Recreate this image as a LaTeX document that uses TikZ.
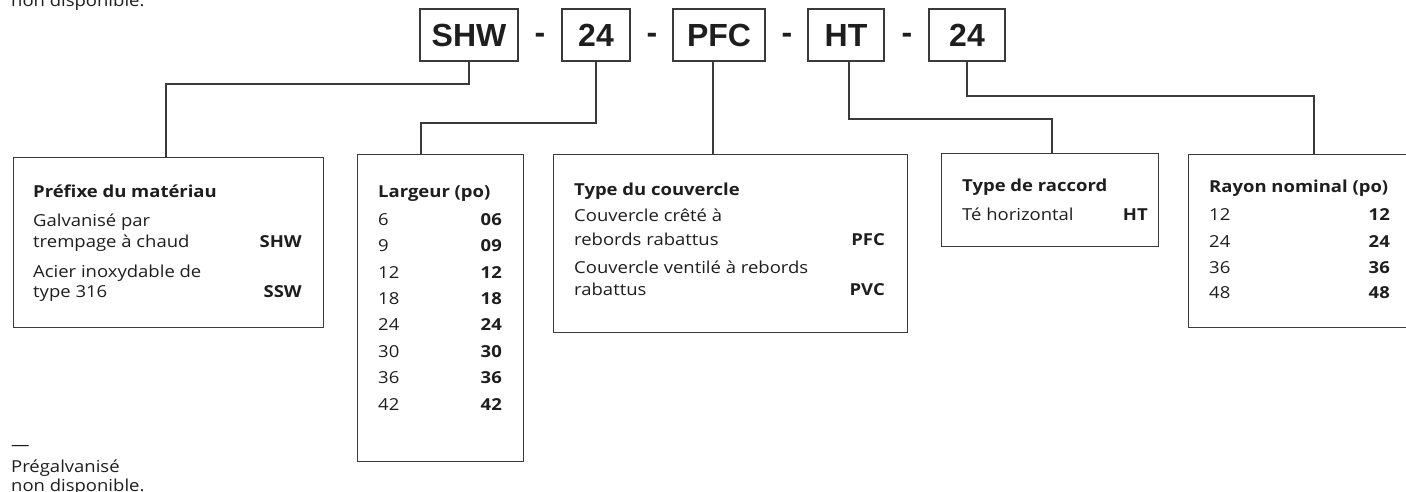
\documentclass[tikz,border=0pt]{standalone}
\usepackage{fontspec}
\setmainfont[FakeStretch=1.12]{Open Sans}
\newfontfamily\codefont{Liberation Sans}
\definecolor{ln}{HTML}{3A3A3A}
\definecolor{tx}{HTML}{1E1E1E}
\begin{document}
\begin{tikzpicture}[x=1pt,y=-1pt,
  box/.style={draw=ln,line width=1.4pt,anchor=north west,inner sep=0pt},
  code/.style={draw=ln,line width=1.4pt,minimum height=52pt,inner sep=0pt,font=\codefont\bfseries\fontsize{32}{32}\selectfont,text=tx},
  dashsym/.style={anchor=base,font=\codefont\bfseries\fontsize{32}{32}\selectfont,text=tx,inner sep=0pt},
  lbl/.style={anchor=base west,inner sep=0pt,font=\fontsize{16.5}{18}\selectfont,text=tx},
  ttl/.style={anchor=base west,inner sep=0pt,font=\bfseries\fontsize{16.5}{18}\selectfont,text=tx},
  val/.style={anchor=base east,inner sep=0pt,font=\bfseries\fontsize{16.5}{18}\selectfont,text=tx},
  conn/.style={draw=ln,line width=1.2pt}]
\useasboundingbox (0,0) rectangle (1406,492);
\clip (0,0) rectangle (1406,492);
\fill[white] (0,0) rectangle (1406,492);

% code boxes
\node[code,minimum width=98pt] (shw) at (469,35) {SHW};
\node[code,minimum width=68pt] (c24) at (596,35) {24};
\node[code,minimum width=92pt] (pfc) at (719,35) {PFC};
\node[code,minimum width=76pt] (ht) at (846,35) {HT};
\node[code,minimum width=76pt] (r24) at (967,35) {24};
\node[dashsym] (d1) at (540,44) {-};
\node[dashsym] (d2) at (652,44) {-};
\node[dashsym] (d3) at (787,44) {-};
\node[dashsym] (d4) at (907,44) {-};

% boxes
\node[box,minimum width=310pt,minimum height=170pt] (pref) at (13,157) {};
\node[box,minimum width=166pt,minimum height=307pt] (lar) at (357,154) {};
\node[box,minimum width=354pt,minimum height=178pt] (cov) at (553,154) {};
\node[box,minimum width=217pt,minimum height=93pt] (rac) at (941,153) {};
\node[box,minimum width=240pt,minimum height=173pt] (ray) at (1188,154) {};

% connectors
\coordinate (k1) at (166,84);
\draw[conn] (shw.south) |- (k1) -- (k1 |- pref.north);
\coordinate (k2) at (421,123);
\draw[conn] (c24.south) |- (k2) -- (k2 |- lar.north);
\draw[conn] ([xshift=-6pt]pfc.south) -- ([xshift=-6pt]pfc.south |- cov.north);
\coordinate (k4) at (1052,119);
\draw[conn] ([xshift=3pt]ht.south) |- (k4) -- (k4 |- rac.north);
\coordinate (k5) at (1314,96);
\draw[conn] (r24.south) |- (k5) -- (k5 |- ray.north);

% Prefixe
\node[ttl] (p0) at (33,197) {Préfixe du matériau};
\node[lbl] (p1) at (33,226) {Galvanisé par};
\node[lbl] (p2) at (33,247) {trempage à chaud};
\node[val] (p2v) at (302,247) {SHW};
\node[lbl] (p3) at (33,277) {Acier inoxydable de};
\node[lbl] (p4) at (33,297) {type 316};
\node[val] (p4v) at (302,297) {SSW};

% Largeur
\node[ttl] (l0) at (378,197) {Largeur (po)};
\foreach \a/\b/\y [count=\i] in {6/06/225,9/09/251,12/12/278,18/18/304,24/24/330,30/30/357,36/36/383,42/42/410}{
  \node[lbl] (la\i) at (378,\y) {\a};
  \node[val] (lb\i) at (502,\y) {\b};
}

% Couvercle
\node[ttl] (c0) at (574,195) {Type du couvercle};
\node[lbl] (c1) at (574,222) {Couvercle crêté à};
\node[lbl] (c2) at (574,245) {rebords rabattus};
\node[val] (c2v) at (885,245) {PFC};
\node[lbl] (c3) at (574,273) {Couvercle ventilé à rebords};
\node[lbl] (c4) at (574,295) {rabattus};
\node[val] (c4v) at (885,295) {PVC};

% Raccord
\node[ttl] (r0) at (962,192) {Type de raccord};
\node[lbl] (r1) at (962,220) {Té horizontal};
\node[val] (r1v) at (1148,220) {HT};

% Rayon
\node[ttl] (y0) at (1209,193) {Rayon nominal (po)};
\foreach \a/\y [count=\i] in {12/220,24/247,36/273,48/298}{
  \node[lbl] (ya\i) at (1209,\y) {\a};
  \node[val] (yb\i) at (1390,\y) {\a};
}

% notes
\node[lbl] (n0) at (11,7) {non disponible.};
\node[lbl] (n1) at (11,450) {—};
\node[lbl] (n2) at (11,472) {Prégalvanisé};
\node[lbl] (n3) at (11,491) {non disponible.};
\end{tikzpicture}
\end{document}
